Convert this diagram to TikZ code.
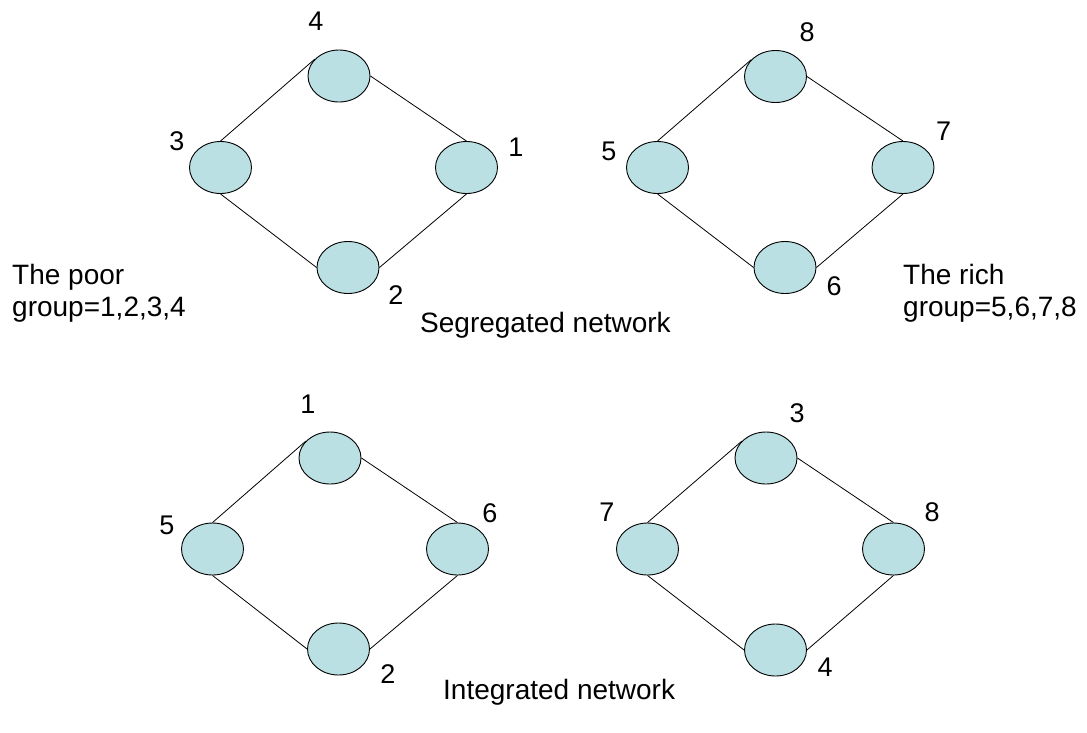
\documentclass[tikz,border=0pt]{standalone}
\usepackage{fontspec}
\setmainfont{Liberation Sans}
\definecolor{nodefill}{RGB}{187,224,227}
\tikzset{
  nd/.style={ellipse, draw=black, line width=0.9pt, fill=nodefill, minimum width=62pt, minimum height=52pt, inner sep=0pt},
  lbl/.style={inner sep=0pt, font=\fontsize{27}{32}\selectfont},
  txt/.style={inner sep=0pt, anchor=base west, font=\fontsize{28}{32}\selectfont},
  edge/.style={draw=black, line width=0.8pt}
}
\usetikzlibrary{shapes.geometric}
\begin{document}
\begin{tikzpicture}[x=1pt,y=-1pt]
\useasboundingbox (0,0) rectangle (1087,732);
% Segregated, poor group
\node[nd] (a4) at (339,76) {};
\node[nd] (a3) at (220.5,167.5) {};
\node[nd] (a1) at (466.5,167.5) {};
\node[nd] (a2) at (348,267.5) {};
\draw[edge] (a3.north) -- (a4.145);
\draw[edge] (a4.east) -- (a1.north);
\draw[edge] (a3.south) -- (a2.west);
\draw[edge] (a2.east) -- (a1.south);
\node[lbl] (la4) at (316,21) {4};
\node[lbl] (la3) at (177,141) {3};
\node[lbl] (la1) at (516,147) {1};
\node[lbl] (la2) at (396,295) {2};
% Segregated, rich group
\node[nd] (b8) at (775.5,76.5) {};
\node[nd] (b5) at (657.5,167.5) {};
\node[nd] (b7) at (903,167.5) {};
\node[nd] (b6) at (785,267.5) {};
\draw[edge] (b5.north) -- (b8.145);
\draw[edge] (b8.east) -- (b7.north);
\draw[edge] (b5.south) -- (b6.west);
\draw[edge] (b6.east) -- (b7.south);
\node[lbl] (lb8) at (807,32) {8};
\node[lbl] (lb5) at (609,151) {5};
\node[lbl] (lb7) at (943.5,131) {7};
\node[lbl] (lb6) at (834,286) {6};
% Integrated, left
\node[nd] (c1) at (330,458) {};
\node[nd] (c5) at (212.5,549) {};
\node[nd] (c6) at (457.5,549) {};
\node[nd] (c2) at (338.5,649) {};
\draw[edge] (c5.north) -- (c1.145);
\draw[edge] (c1.east) -- (c6.north);
\draw[edge] (c5.south) -- (c2.west);
\draw[edge] (c2.east) -- (c6.south);
\node[lbl] (lc1) at (308,404) {1};
\node[lbl] (lc5) at (167,525) {5};
\node[lbl] (lc6) at (490,513) {6};
\node[lbl] (lc2) at (388,674) {2};
% Integrated, right
\node[nd] (d3) at (766,458) {};
\node[nd] (d7) at (647.5,549) {};
\node[nd] (d8) at (893.5,549) {};
\node[nd] (d4) at (775.5,650) {};
\draw[edge] (d7.north) -- (d3.145);
\draw[edge] (d3.east) -- (d8.north);
\draw[edge] (d7.south) -- (d4.west);
\draw[edge] (d4.east) -- (d8.south);
\node[lbl] (ld3) at (797,413) {3};
\node[lbl] (ld7) at (607,512) {7};
\node[lbl] (ld8) at (932,512) {8};
\node[lbl] (ld4) at (825,667) {4};
% texts
\node[txt] (poor1) at (12,284) {The poor};
\node[txt] (poor2) at (12,316) {group=1,2,3,4};
\node[txt] (rich1) at (903,284) {The rich};
\node[txt] (rich2) at (903,316) {group=5,6,7,8};
\node[txt] (seg) at (420,332) {Segregated network};
\node[txt] (int) at (443,699) {Integrated network};
\end{tikzpicture}
\end{document}
